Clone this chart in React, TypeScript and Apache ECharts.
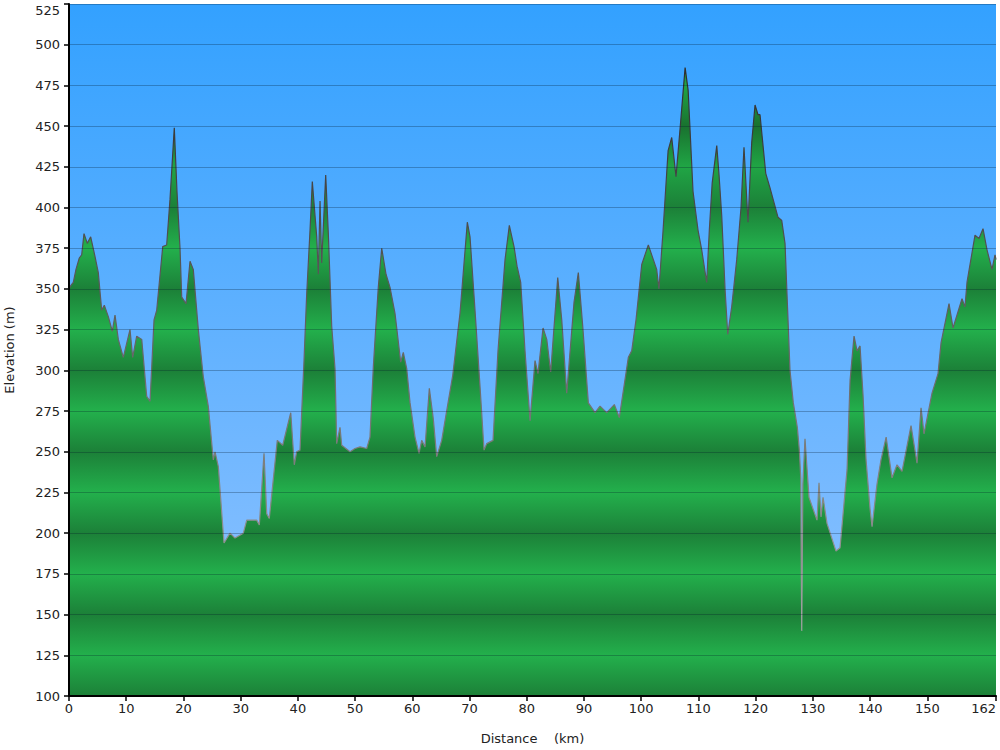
import React, { useEffect, useRef } from "react";
import * as echarts from "echarts";

// profile samples
const distanceKm = [
  0, 0.3, 0.75, 1.22, 1.8, 2.22, 2.62, 3.2, 3.79, 4.54, 5.12, 5.71, 6.17, 6.87, 7.57, 8.04, 8.62, 9.49,
  10.66, 11.13, 11.83, 12.71, 13.58, 14.16, 14.86, 15.33, 16.38, 17.07, 17.65, 18.4, 18.87, 19.4, 19.7,
  20.45, 21.15, 21.72, 22.6, 23.47, 24.34, 25.22, 25.52, 26.09, 27.09, 28.14, 29.01, 30.46, 31.06, 32.8,
  33.26, 34.08, 34.55, 35.0, 36.4, 37.35, 38.75, 39.37, 39.79, 40.37, 41.07, 41.54, 42.12, 42.52, 43.29,
  43.57, 43.87, 44.16, 44.86, 45.32, 45.91, 46.49, 46.78, 47.36, 47.66, 49.11, 49.98, 50.86, 52.03, 52.6,
  53.18, 54.05, 54.65, 55.4, 56.1, 56.97, 57.97, 58.42, 59.02, 59.6, 60.47, 61.17, 61.64, 62.22, 62.97,
  63.67, 64.26, 65.13, 66.24, 67.06, 68.33, 69.61, 70.08, 70.95, 71.83, 72.53, 73.0, 74.1, 74.97, 76.2,
  76.95, 77.77, 78.3, 78.94, 79.69, 80.57, 81.44, 81.96, 82.84, 83.49, 84.18, 85.41, 86.11, 86.98, 88.26,
  89.01, 89.78, 90.76, 91.93, 92.8, 93.97, 95.3, 96.17, 97.75, 98.34, 99.09, 100.09, 101.24, 102.7, 103.1,
  103.8, 104.7, 105.33, 106.08, 106.78, 107.67, 108.2, 109.05, 109.93, 110.57, 111.44, 111.9, 112.4,
  113.2, 113.6, 114.07, 114.65, 115.12, 115.81, 116.69, 117.44, 117.96, 118.66, 119.31, 119.89, 120.41,
  120.76, 121.76, 122.51, 123.91, 124.56, 125.13, 125.43, 126.0, 126.58, 127.28, 127.63, 127.88, 128.05,
  128.25, 128.62, 129.32, 130.72, 131.07, 131.42, 131.77, 132.47, 134.04, 134.74, 135.97, 136.5, 137.19,
  137.72, 138.24, 138.76, 139.29, 139.99, 140.34, 141.2, 141.9, 142.8, 143.83, 144.7, 145.58, 147.15,
  148.2, 148.9, 149.42, 150.82, 151.87, 152.4, 153.79, 154.49, 156.06, 156.58, 156.93, 158.33, 159.03,
  159.73, 160.43, 161.3, 161.83, 162,
];

const elevationM = [
  350, 352, 354, 362, 369, 371, 384, 378, 382, 370, 360, 337, 340, 333, 324, 334, 319, 308,
  325, 308, 321, 319, 284, 281, 331, 337, 376, 377, 405, 449, 410, 375, 345,
  341, 367, 362, 325, 296, 278, 245, 250, 241, 194, 200, 197, 200, 208, 208,
  205, 249, 212, 209, 257, 254, 274, 242, 250, 251, 306, 347, 386, 416, 382,
  359, 404, 366, 420, 384, 327, 301, 255, 265, 254, 250, 252, 253, 252, 259,
  302, 351, 375, 359, 351, 335, 305, 311, 301, 280, 259, 249, 257, 253, 289,
  270, 247, 257, 280, 297, 335, 391, 382, 337, 290, 251, 255, 257, 312, 368,
  389, 376, 364, 354, 312, 269, 306, 298, 326, 319, 299, 357, 331, 286, 342,
  360, 327, 280, 274, 278, 274, 279, 271, 308, 312, 331, 365, 377, 362, 350,
  385, 435, 443, 419, 448, 486, 472, 410, 386, 374, 354, 386, 415,
  438, 420, 395, 350, 322, 339, 368, 400, 437, 391, 440, 463, 457,
  457, 421, 412, 394, 392, 378, 351, 300, 280, 265, 251, 234, 140,
  230, 258, 222, 208, 231, 210, 222, 206, 189, 191, 239, 294, 321,
  312, 315, 285, 245, 215, 204, 230, 245, 259, 234, 242, 238, 266,
  243, 277, 261, 286, 298, 317, 341, 326, 344, 339, 354, 383, 381,
  387, 374, 362, 371, 368,
];

const xTickValues = [0, 10, 20, 30, 40, 50, 60, 70, 80, 90, 100, 110, 120, 130, 140, 150, 162];

const Y_MIN = 100;
const Y_MAX = 525;
const GRID_TOP = 4;
const GRID_BOTTOM = 54;
const CHART_H = 750;

const App: React.FC = () => {
  const chartRef = useRef<HTMLDivElement | null>(null);

  useEffect(() => {
    document.body.style.margin = "0";
    if (!chartRef.current) return;
    const chart = echarts.init(chartRef.current, undefined, { renderer: "svg" });

    // striped green fill: darker on every 50 m, lighter between
    const stops: { offset: number; color: string }[] = [];
    for (let v = Y_MAX; v >= Y_MIN; v -= 25) {
      const off = (Y_MAX - v) / (Y_MAX - Y_MIN);
      const dark = v % 50 === 0;
      const upper = v > 400;
      stops.push({
        offset: off,
        color: dark ? (upper ? "#19722f" : "#1c8038") : upper ? "#20a545" : "#23b04c",
      });
    }
    const plotBottom = CHART_H - GRID_BOTTOM;
    const areaFill = new echarts.graphic.LinearGradient(0, GRID_TOP, 0, plotBottom, stops, true);
    const strokeFill = new echarts.graphic.LinearGradient(
      0,
      GRID_TOP,
      0,
      plotBottom,
      [
        { offset: 0, color: "#222222" },
        { offset: 0.5, color: "#666666" },
        { offset: 1, color: "#b0b0b0" },
      ],
      true
    );

    const data = distanceKm.map((d, i) => [d, elevationM[i]]);
    const font = "DejaVu Sans";

    chart.setOption({
      animation: false,
      grid: {
        left: 69,
        right: 4,
        top: GRID_TOP,
        bottom: GRID_BOTTOM,
        containLabel: false,
        outerBoundsMode: "none",
        show: true,
        borderWidth: 0,
        backgroundColor: new echarts.graphic.LinearGradient(0, 0, 0, 1, [
          { offset: 0, color: "#33a1ff" },
          { offset: 1, color: "#94c4ff" },
        ]),
      },
      xAxis: {
        type: "value",
        min: 0,
        max: 162,
        interval: 10,
        z: 5,
        name: "Distance\u00a0\u00a0\u00a0\u00a0(km)",
        nameLocation: "middle",
        nameGap: 36,
        nameTextStyle: { fontFamily: font, fontSize: 13, color: "#222" },
        axisLine: { onZero: false, lineStyle: { color: "#000", width: 2 } },
        axisTick: { length: 5, lineStyle: { color: "#000", width: 1.5 }, customValues: xTickValues },
        axisLabel: {
          fontFamily: font,
          fontSize: 13,
          color: "#222",
          margin: 6,
          customValues: xTickValues,
          alignMaxLabel: "right",
        },
        splitLine: { show: false },
      },
      yAxis: {
        type: "value",
        min: Y_MIN,
        max: Y_MAX,
        interval: 25,
        z: 5,
        name: "Elevation (m)",
        nameLocation: "middle",
        nameGap: 53,
        nameTextStyle: { fontFamily: font, fontSize: 13, color: "#222" },
        axisLine: { show: true, lineStyle: { color: "#000", width: 2 } },
        axisTick: { show: true, length: 5, lineStyle: { color: "#000", width: 1.5 } },
        axisLabel: {
          fontFamily: font,
          fontSize: 13,
          color: "#222",
          margin: 9,
          formatter: (v: number) => (v === Y_MAX ? `{top|${v}}` : `${v}`),
          rich: {
            top: { fontFamily: font, fontSize: 13, color: "#222", padding: [12, 0, 0, 0] },
          },
        },
        splitLine: { show: true, lineStyle: { color: "rgba(0,20,40,0.28)", width: 1 } },
      },
      series: [
        {
          type: "line",
          data,
          showSymbol: false,
          smooth: false,
          lineStyle: { color: strokeFill, width: 1.2 },
          areaStyle: { color: areaFill, opacity: 1, origin: "start" },
        },
      ],
    });

    return () => {
      chart.dispose();
    };
  }, []);

  return <div ref={chartRef} style={{ width: "1000px", height: "750px" }} />;
};

export default App;
